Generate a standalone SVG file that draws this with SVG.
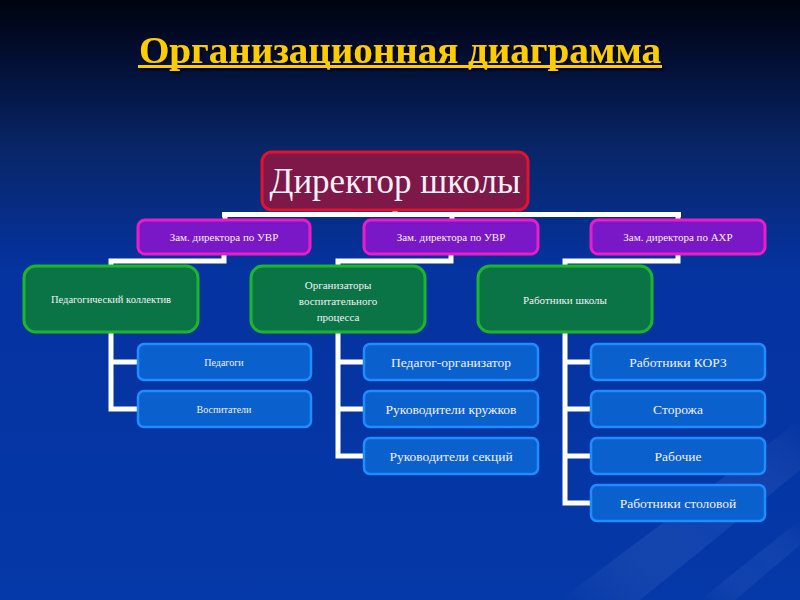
<svg xmlns="http://www.w3.org/2000/svg" width="800" height="600" viewBox="0 0 800 600">
<defs>
<linearGradient id="bg" x1="0" y1="0" x2="0" y2="1">
<stop offset="0" stop-color="#00030f"/>
<stop offset="0.08" stop-color="#020c2c"/>
<stop offset="0.25" stop-color="#082668"/>
<stop offset="0.45" stop-color="#0533a0"/>
<stop offset="1" stop-color="#0538a8"/>
</linearGradient>
<linearGradient id="streak" x1="0" y1="1" x2="1" y2="0">
<stop offset="0" stop-color="#ffffff" stop-opacity="0"/>
<stop offset="0.5" stop-color="#4a7ad8" stop-opacity="0.35"/>
<stop offset="1" stop-color="#ffffff" stop-opacity="0"/>
</linearGradient>
<filter id="sh" x="-10%" y="-30%" width="120%" height="160%">
<feDropShadow dx="2" dy="2" stdDeviation="1" flood-color="#000000" flood-opacity="0.8"/>
</filter>
</defs>
<style>
.t{font-family:"Liberation Serif","DejaVu Serif",serif;fill:#f4f0f8;text-anchor:middle}
.dir{fill:#7d1848;stroke:#e3122c;stroke-width:3}
.l2{fill:#7a18c8;stroke:#ea1ec8;stroke-width:3}
.l3{fill:#0a7446;stroke:#1cb52c;stroke-width:3}
.l4{fill:#0a60cc;stroke:#1f8cff;stroke-width:2.5}
.c{fill:none;stroke:#ffffff;stroke-width:5}
</style>
<rect x="0" y="0" width="800" height="600" fill="url(#bg)"/>
<path d="M560 600 L800 420 L800 470 L640 600 Z" fill="url(#streak)" opacity="0.5"/>
<path d="M700 600 L800 520 L800 545 L735 600 Z" fill="url(#streak)" opacity="0.4"/>

<g id="title" filter="url(#sh)">
<text x="400" y="63" font-family="Liberation Serif, serif" font-weight="bold" font-size="38" fill="#ffcc00" text-anchor="middle" textLength="522" lengthAdjust="spacingAndGlyphs">Организационная диаграмма</text>
<rect x="138" y="65" width="524" height="3" fill="#ffcc00"/>
</g>

<g id="connectors">
<path class="c" d="M395 210 V214.5 M222 214.5 H681 M225 214 V221 M452 214 V221 M678 214 V221"/>
<path class="c" d="M224 253 V261 H111 V267 M451 253 V261 H338 V267 M678 253 V261 H565 V267"/>
<path class="c" d="M111 331 V409 M108.5 362 H139 M108.5 409 H139"/>
<path class="c" d="M338 331 V456 M335.5 362 H365 M335.5 409 H365 M335.5 456 H365"/>
<path class="c" d="M565 331 V503 M562.5 362 H592 M562.5 409 H592 M562.5 456 H592 M562.5 503 H592"/>
</g>

<g id="director">
<rect class="dir" x="262" y="152" width="266" height="58" rx="10"/>
<text class="t" x="395" y="193" font-size="35">Директор школы</text>
</g>

<g id="zam-uvr-1">
<rect class="l2" x="138" y="220" width="172" height="34" rx="7"/>
<text class="t" x="224" y="241" font-size="11">Зам. директора по УВР</text>
</g>
<g id="zam-uvr-2">
<rect class="l2" x="364" y="220" width="174" height="34" rx="7"/>
<text class="t" x="451" y="241" font-size="11">Зам. директора по УВР</text>
</g>
<g id="zam-ahr">
<rect class="l2" x="591" y="220" width="174" height="34" rx="7"/>
<text class="t" x="678" y="241" font-size="11">Зам. директора по АХР</text>
</g>

<g id="ped-kollektiv">
<rect class="l3" x="24" y="266" width="174" height="66" rx="12"/>
<text class="t" x="111" y="303" font-size="10.5">Педагогический коллектив</text>
</g>
<g id="organizatory">
<rect class="l3" x="251" y="266" width="174" height="66" rx="12"/>
<text class="t" x="338" y="289" font-size="11">Организаторы</text>
<text class="t" x="338" y="305" font-size="11">воспитательного</text>
<text class="t" x="338" y="321" font-size="11">процесса</text>
</g>
<g id="rabotniki-shkoly">
<rect class="l3" x="478" y="266" width="174" height="66" rx="12"/>
<text class="t" x="565" y="304" font-size="11">Работники  школы</text>
</g>

<g id="pedagogi">
<rect class="l4" x="138" y="344" width="173" height="36" rx="6"/>
<text class="t" x="224" y="366" font-size="10">Педагоги</text>
</g>
<g id="vospitateli">
<rect class="l4" x="138" y="391" width="173" height="36" rx="6"/>
<text class="t" x="224" y="413" font-size="10">Воспитатели</text>
</g>

<g id="ped-org">
<rect class="l4" x="364" y="344" width="174" height="36" rx="6"/>
<text class="t" x="451" y="367" font-size="13.5">Педагог-организатор</text>
</g>
<g id="ruk-kruzhkov">
<rect class="l4" x="364" y="391" width="174" height="36" rx="6"/>
<text class="t" x="451" y="414" font-size="13.5">Руководители кружков</text>
</g>
<g id="ruk-sekciy">
<rect class="l4" x="364" y="438" width="174" height="36" rx="6"/>
<text class="t" x="451" y="461" font-size="13.5">Руководители секций</text>
</g>

<g id="korz">
<rect class="l4" x="591" y="344" width="174" height="36" rx="6"/>
<text class="t" x="678" y="367" font-size="13.5">Работники КОРЗ</text>
</g>
<g id="storozha">
<rect class="l4" x="591" y="391" width="174" height="36" rx="6"/>
<text class="t" x="678" y="414" font-size="13.5">Сторожа</text>
</g>
<g id="rabochie">
<rect class="l4" x="591" y="438" width="174" height="36" rx="6"/>
<text class="t" x="678" y="461" font-size="13.5">Рабочие</text>
</g>
<g id="stolovaya">
<rect class="l4" x="591" y="485" width="174" height="36" rx="6"/>
<text class="t" x="678" y="508" font-size="13.5">Работники столовой</text>
</g>
</svg>
